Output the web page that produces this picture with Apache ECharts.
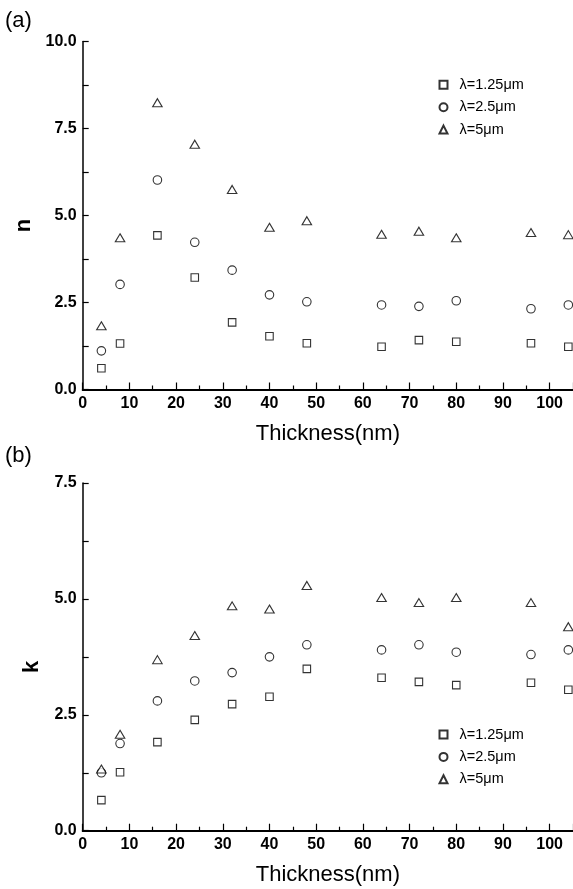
<!DOCTYPE html>
<html>
<head>
<meta charset="utf-8">
<script src="https://cdn.jsdelivr.net/npm/echarts@6/dist/echarts.min.js"></script>
<style>
html,body{margin:0;padding:0;background:#fff;}
#c{width:573px;height:889px;}
</style>
</head>
<body>
<div id="c"></div>
<script>
// Data
const thickness = [4, 8, 16, 24, 32, 40, 48, 64, 72, 80, 96, 104];
const seriesNames = ['λ=1.25μm', 'λ=2.5μm', 'λ=5μm'];
const n_125 = [0.61, 1.32, 4.43, 3.22, 1.93, 1.53, 1.33, 1.23, 1.42, 1.37, 1.33, 1.23];
const n_25  = [1.11, 3.02, 6.02, 4.23, 3.43, 2.72, 2.52, 2.43, 2.39, 2.55, 2.32, 2.43];
const n_5   = [1.83, 4.36, 8.24, 7.05, 5.75, 4.66, 4.85, 4.46, 4.55, 4.36, 4.51, 4.45];
const k_125 = [0.66, 1.26, 1.91, 2.39, 2.73, 2.89, 3.49, 3.30, 3.21, 3.14, 3.19, 3.04];
const k_25  = [1.25, 1.88, 2.80, 3.23, 3.41, 3.75, 4.01, 3.90, 4.01, 3.85, 3.80, 3.90];
const k_5   = [1.33, 2.08, 3.69, 4.21, 4.85, 4.78, 5.29, 5.03, 4.92, 5.03, 4.92, 4.40];
const xTicks = [0, 10, 20, 30, 40, 50, 60, 70, 80, 90, 100];

const FONT = '"Liberation Sans", Arial, sans-serif';
const pair = (ys) => thickness.map((x, i) => [x, ys[i]]);
const symbols = ['rect', 'circle', 'triangle'];
const sizes = [7.5, 8.5, [9.5, 8]];

function xAx(gi) {
  return {
    type: 'value', gridIndex: gi, min: 0, max: 105, interval: 10,
    axisLine: {show: true, onZero: false, lineStyle: {color: '#000', width: 1.5}},
    axisTick: {show: true, inside: true, length: 7, lineStyle: {color: '#000', width: 1.2}},
    minorTick: {show: true, splitNumber: 2, length: 4, lineStyle: {color: '#000', width: 1.2}},
    splitLine: {show: false},
    axisLabel: {show: true, showMaxLabel: false, color: '#000', fontFamily: FONT, fontSize: 16, fontWeight: 'bold', margin: 6,
      formatter: v => xTicks.indexOf(v) >= 0 ? String(v) : ''},
    name: 'Thickness(nm)', nameLocation: 'middle', nameGap: 33,
    nameTextStyle: {color: '#000', fontFamily: FONT, fontSize: 22}
  };
}
function xTop(gi) {
  return {
    type: 'value', gridIndex: gi, min: 0, max: 105, position: 'top',
    axisLine: {show: true, lineStyle: {color: '#000', width: 2}},
    axisTick: {show: false}, axisLabel: {show: false}, splitLine: {show: false}
  };
}
function yAx(gi, max, name) {
  return {
    type: 'value', gridIndex: gi, min: 0, max: max, interval: 2.5,
    axisLine: {show: true, onZero: false, lineStyle: {color: '#000', width: 1.5}},
    axisTick: {show: true, inside: true, length: 6, lineStyle: {color: '#000', width: 1.2}},
    minorTick: {show: true, splitNumber: 2, length: 6, lineStyle: {color: '#000', width: 1.2}},
    splitLine: {show: false},
    axisLabel: {color: '#000', fontFamily: FONT, fontSize: 16, fontWeight: 'bold', margin: 6,
      formatter: v => v.toFixed(1)},
    name: name, nameLocation: 'middle', nameGap: 40, nameRotate: 90,
    nameTextStyle: {color: '#000', fontFamily: FONT, fontSize: 22, fontWeight: 'bold', padding: [0, 20, 0, 0]}
  };
}
function sers(gi, arrs) {
  return arrs.map((a, i) => ({
    type: 'scatter', name: seriesNames[i], xAxisIndex: gi * 2, yAxisIndex: gi,
    symbol: symbols[i], symbolSize: sizes[i],
    itemStyle: {color: '#fff', borderColor: '#000', borderWidth: 1.1},
    data: pair(a), z: 5
  }));
}
function legend(top) {
  return {
    orient: 'vertical', left: 438.5, top: top, padding: 0,
    itemWidth: 8, itemHeight: 8, itemGap: 7.4,
    selectedMode: false,
    textStyle: {color: '#000', fontFamily: FONT, fontSize: 14.5, lineHeight: 14, padding: [0, 0, 0, 7]},
    data: seriesNames.map((n, i) => ({name: n, icon: symbols[i]}))
  };
}

const chart = echarts.init(document.getElementById('c'), null, {renderer: 'canvas'});
chart.setOption({
  backgroundColor: '#fff',
  animation: false,
  grid: [
    {left: 82.7, right: 0, top: 41.5, height: 348},
    {left: 82.7, right: 0, top: 483, height: 347.7}
  ],
  xAxis: [xAx(0), xTop(0), xAx(1), xTop(1)],
  yAxis: [yAx(0, 10, 'n'), yAx(1, 7.5, 'k')],
  legend: [legend(77.3), legend(727)],
  graphic: [
    {type: 'text', left: 5, top: 10, style: {text: '(a)', font: '22px ' + FONT, fill: '#000'}},
    {type: 'text', left: 5, top: 445, style: {text: '(b)', font: '22px ' + FONT, fill: '#000'}}
  ],
  series: [...sers(0, [n_125, n_25, n_5]), ...sers(1, [k_125, k_25, k_5])]
});
</script>
</body>
</html>
